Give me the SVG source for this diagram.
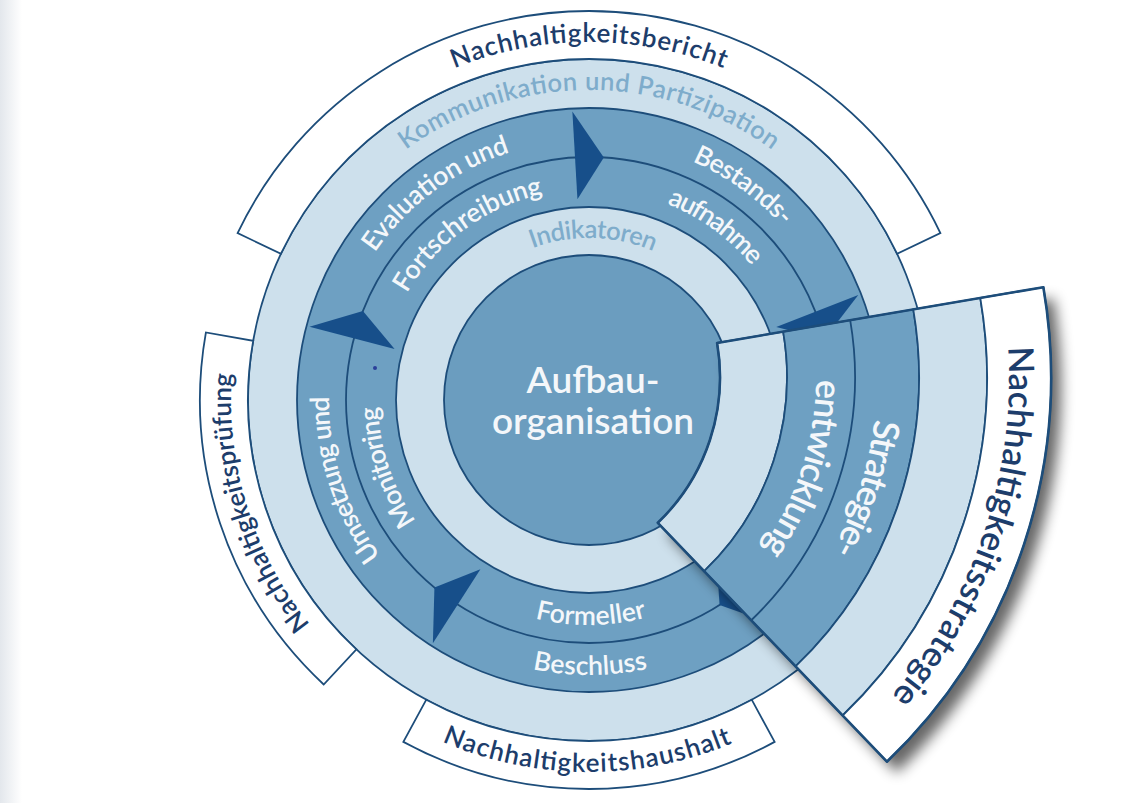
<svg xmlns="http://www.w3.org/2000/svg" width="1136" height="803" viewBox="0 0 1136 803">
<defs>
<style>
.light{fill:#cde0ec;stroke:#1d4d7a;stroke-width:1.8}
.dark{fill:#6ea0c2;stroke:#1d4d7a;stroke-width:1.8}
.core{fill:#6b9dbf;stroke:#1d4d7a;stroke-width:1.8}
.box{fill:#ffffff;stroke:#1d4d7a;stroke-width:1.8}
.line{fill:none;stroke:#1d4d7a;stroke-width:1.8}
.arrow{fill:#174f8a;stroke:none}
.t{font-family:Lato,"Open Sans","Liberation Sans",sans-serif;text-anchor:middle}
.ring{fill:#f4f7fa;font-size:26.5px;font-weight:600}
.boxt{fill:#1d3d6b;font-size:26px;font-weight:600}
.soft{fill:#7eaccb;font-size:25.5px;font-weight:600}
.big{fill:#f4f7fa;font-size:37px;font-weight:600}
.wring{fill:#f4f7fa;font-size:36px;font-weight:600}
.wbox{fill:#1d3d6b;font-size:35px;font-weight:600}
</style>
<linearGradient id="edge" x1="0" y1="0" x2="1" y2="0">
<stop offset="0" stop-color="#e3e7ec"/>
<stop offset="1" stop-color="#ffffff"/>
</linearGradient>
<filter id="shadow" x="-20%" y="-20%" width="150%" height="150%">
<feGaussianBlur in="SourceAlpha" stdDeviation="7"/>
<feOffset dx="10" dy="11" result="b"/>
<feComponentTransfer><feFuncA type="linear" slope="0.6"/></feComponentTransfer>
<feMerge><feMergeNode/><feMergeNode in="SourceGraphic"/></feMerge>
</filter>
<path id="pBericht" d="M278.96,221 A358,358 0 0 1 899.04,221"/>
<path id="pKomm" d="M320.53,245 A310,310 0 0 1 857.47,245"/>
<path id="pEval" d="M329.46,384.58 A260,260 0 0 1 649.26,147.08"/>
<path id="pFort" d="M378.49,385.65 A211,211 0 0 1 639.69,195.18"/>
<path id="pBest" d="M592.18,140.02 A260,260 0 0 1 834.39,314.07"/>
<path id="pAufn" d="M593.05,189.04 A211,211 0 0 1 788.63,331.65"/>
<path id="pInd" d="M450.87,315.35 A162,162 0 0 1 731.37,322.7"/>
<path id="pUms" d="M451.22,620.49 A260,260 0 0 1 347.93,302.6"/>
<path id="pMon" d="M478.44,579.71 A211,211 0 0 1 392.82,322.33"/>
<path id="pForm" d="M445.88,573.61 A225,225 0 0 0 735.13,571.09"/>
<path id="pBesch" d="M413.15,611.43 A275,275 0 0 0 766.68,609.89"/>
<path id="pHaus" d="M348.39,683.71 A372,372 0 0 0 826.62,686.22"/>
<path id="pPruef" d="M395.59,701.26 A358,358 0 0 1 258.71,261.84"/>
<path id="pStrat" d="M850.39,241.36 A359,359 0 0 1 709.3,680.78"/>
<path id="pEntw" d="M793.91,264.4 A298,298 0 0 1 676.8,629.16"/>
<path id="pNStrat" d="M974.84,197.05 A491,491 0 0 1 774.55,795.65"/>
</defs>

<rect x="0" y="0" width="1136" height="803" fill="#ffffff"/>
<rect x="0" y="0" width="22" height="803" fill="url(#edge)"/>

<g id="rings">
<circle class="light" cx="589" cy="400" r="341"/>
<circle class="dark" cx="589" cy="400" r="292"/>
<circle class="line" cx="589" cy="400" r="243"/>
<circle class="light" cx="589" cy="400" r="193"/>
</g>

<g id="aufbauorganisation">
<circle class="core" cx="589" cy="400" r="145"/>
<text class="t big" x="593" y="393">Aufbau-</text>
<text class="t big" x="593" y="434">organisation</text>
</g>

<g id="nachhaltigkeitsbericht">
<path class="box" d="M237.6,233.14 A389,389 0 0 1 940.4,233.14 L897.04,253.73 A341,341 0 0 0 280.96,253.73 Z"/>
<text class="t boxt"><textPath href="#pBericht" startOffset="50%" textLength="276" lengthAdjust="spacing">Nachhaltigkeitsbericht</textPath></text>
</g>
<g id="nachhaltigkeitspruefung">
<path class="box" d="M323.7,684.5 A389,389 0 0 1 205.91,332.45 L253.18,340.79 A341,341 0 0 0 356.44,649.39 Z"/>
<text class="t boxt"><textPath href="#pPruef" startOffset="50%" textLength="269" lengthAdjust="spacing">Nachhaltigkeitsprüfung</textPath></text>
</g>
<g id="nachhaltigkeitshaushalt">
<path class="box" d="M774.62,741.86 A389,389 0 0 1 403.38,741.86 L426.29,699.68 A341,341 0 0 0 751.71,699.68 Z"/>
<text class="t boxt"><textPath href="#pHaus" startOffset="50%" textLength="298" lengthAdjust="spacing">Nachhaltigkeitshaushalt</textPath></text>
</g>

<g id="kommunikation">
<text class="t soft"><textPath href="#pKomm" startOffset="50%" textLength="392" lengthAdjust="spacing">Kommunikation und Partizipation</textPath></text>
</g>
<g id="indikatoren">
<text class="t soft"><textPath href="#pInd" startOffset="50%" textLength="124" lengthAdjust="spacing">Indikatoren</textPath></text>
</g>

<g id="evaluation">
<text class="t ring"><textPath href="#pEval" startOffset="50%" textLength="171" lengthAdjust="spacing">Evaluation und</textPath></text>
<text class="t ring"><textPath href="#pFort" startOffset="50%" textLength="173" lengthAdjust="spacing">Fortschreibung</textPath></text>
</g>
<g id="bestandsaufnahme">
<text class="t ring"><textPath href="#pBest" startOffset="50%" textLength="112" lengthAdjust="spacing">Bestands-</textPath></text>
<text class="t ring"><textPath href="#pAufn" startOffset="50%" textLength="106" lengthAdjust="spacing">aufnahme</textPath></text>
</g>
<g id="umsetzung">
<text class="t ring"><textPath href="#pUms" startOffset="50%" textLength="170" lengthAdjust="spacing">Umsetzung und</textPath></text>
<text class="t ring"><textPath href="#pMon" startOffset="50%" textLength="122" lengthAdjust="spacing">Monitoring</textPath></text>
</g>
<g id="beschluss">
<text class="t ring"><textPath href="#pForm" startOffset="50%" textLength="113" lengthAdjust="spacing">Formeller</textPath></text>
<text class="t ring"><textPath href="#pBesch" startOffset="50%" textLength="116" lengthAdjust="spacing">Beschluss</textPath></text>
</g>

<g id="connectors">
<path class="arrow" d="M572.37,111.48 L603.83,157.45 L577.43,199.33 Z"/>
<path class="arrow" d="M858.26,295.02 L824.26,339.16 L776.27,326.99 Z"/>
<path class="arrow" d="M772.05,623.64 L719.56,604.94 L716.31,555.54 Z"/>
<path class="arrow" d="M432.87,643.2 L434.43,587.5 L480.41,569.14 Z"/>
<path class="arrow" d="M309.46,326.66 L362.91,310.94 L394.58,348.99 Z"/>
</g>
<circle cx="375" cy="368" r="2" fill="#2a3f9a"/>

<g id="nachhaltigkeitsstrategie">
<path fill="#ffffff" filter="url(#shadow)" d="M717.11,342.96 L1043.38,287.19 A533,533 0 0 1 886.91,761.7 L657.81,522.8 A202,202 0 0 0 717.11,342.96 Z"/>
<path class="light" d="M717.11,342.96 L783.15,331.68 A269,269 0 0 1 704.19,571.15 L657.81,522.8 A202,202 0 0 0 717.11,342.96 Z"/>
<path class="dark" d="M783.15,331.68 L913.27,309.44 A401,401 0 0 1 795.55,666.43 L704.19,571.15 A269,269 0 0 0 783.15,331.68 Z"/>
<path class="line" d="M850.18,320.22 A337,337 0 0 1 751.25,620.23"/>
<path class="light" d="M913.27,309.44 L980.29,297.98 A469,469 0 0 1 842.61,715.51 L795.55,666.43 A401,401 0 0 0 913.27,309.44 Z"/>
<path class="box" d="M980.29,297.98 L1043.38,287.19 A533,533 0 0 1 886.91,761.7 L842.61,715.51 A469,469 0 0 0 980.29,297.98 Z"/>
<path fill="none" stroke="#1d4d7a" stroke-width="2.6" stroke-linejoin="round" d="M717.11,342.96 L1043.38,287.19 A533,533 0 0 1 886.91,761.7 L657.81,522.8 A202,202 0 0 0 717.11,342.96 Z"/>
<text class="t wring"><textPath href="#pStrat" startOffset="50%" textLength="139" lengthAdjust="spacing">Strategie-</textPath></text>
<text class="t wring"><textPath href="#pEntw" startOffset="50%" textLength="180" lengthAdjust="spacing">entwicklung</textPath></text>
<text class="t wbox"><textPath href="#pNStrat" startOffset="50%" textLength="377" lengthAdjust="spacing">Nachhaltigkeitsstrategie</textPath></text>
</g>
</svg>
